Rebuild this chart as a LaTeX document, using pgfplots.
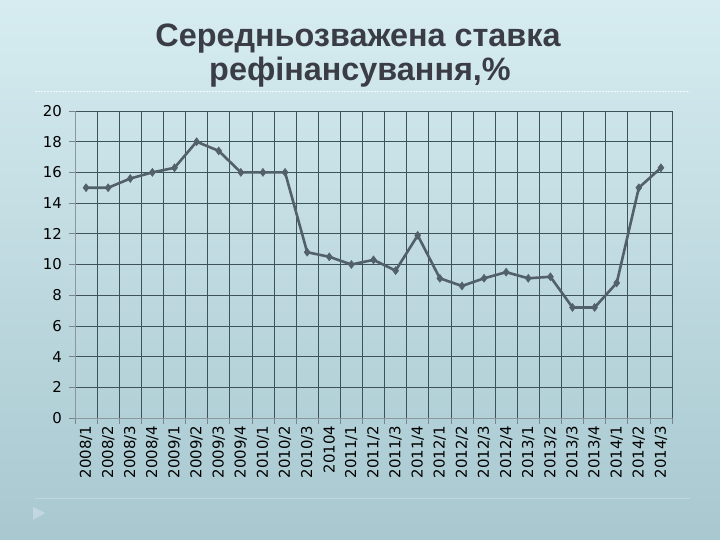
\documentclass[border=0pt]{standalone}
\usepackage{fontspec}
\setmainfont{Liberation Sans}
\newfontfamily\tickfont{DejaVu Sans}
\usepackage{pgfplots}
\pgfplotsset{compat=1.18}

\definecolor{bgtop}{RGB}{214,236,240}
\definecolor{bgbot}{RGB}{168,200,208}
\definecolor{gridc}{RGB}{62,82,90}
\definecolor{linec}{RGB}{82,96,106}
\definecolor{titlec}{RGB}{58,60,70}

\pgfplotstableread{
x y
1 15.0
2 15.0
3 15.6
4 16.0
5 16.3
6 18.0
7 17.4
8 16.0
9 16.0
10 16.0
11 10.8
12 10.5
13 10.0
14 10.3
15 9.6
16 11.9
17 9.1
18 8.6
19 9.1
20 9.5
21 9.1
22 9.2
23 7.2
24 7.2
25 8.8
26 15.0
27 16.3
}\ratedata

\begin{document}
\begin{tikzpicture}[x=1bp,y=1bp]
% slide background
\shade[top color=bgtop,bottom color=bgbot] (0,0) rectangle (720,540);
\draw[white!70!bgtop,dash pattern=on 2bp off 1bp,line width=0.8bp] (35,449) -- (690,449);
\draw[white!25!bgbot,line width=0.8bp] (35,42) -- (690,42);
\fill[bgbot!80!blue!30!white,opacity=0.5] (33,33) -- (45,27) -- (33,20) -- cycle;

% title
\node[font=\bfseries\fontsize{32.5}{33}\selectfont,text=titlec] at (358,501) {Середньозважена ставка};
\node[font=\bfseries\fontsize{32.5}{33}\selectfont,text=titlec] at (360,468) {рефінансування,\%};

\begin{axis}[
    at={(75bp,122bp)},
    anchor=south west,
    scale only axis,
    width=597bp,
    height=307bp,
    xmin=0.5, xmax=27.5,
    ymin=0, ymax=20,
    ytick={0,2,...,20},
    xtick={1,...,27},
    xticklabels={2008/1,2008/2,2008/3,2008/4,2009/1,2009/2,2009/3,2009/4,2010/1,2010/2,2010/3,20104,2011/1,2011/2,2011/3,2011/4,2012/1,2012/2,2012/3,2012/4,2013/1,2013/2,2013/3,2013/4,2014/1,2014/2,2014/3},
    xticklabel style={rotate=90,anchor=east,font=\tickfont\fontsize{15}{15}\selectfont,inner xsep=1.5bp},
    yticklabel style={font=\tickfont\fontsize{15}{15}\selectfont,inner xsep=7bp},
    /pgf/number format/assume math mode=true,
    major x tick style={draw=none},
    minor xtick={0.5,1.5,...,27.5},
    minor x tick style={draw=gridc!70,line width=0.6bp},
    minor tick length=6bp,
    xminorgrids=true,
    ymajorgrids=true,
    major grid style={draw=gridc,line width=0.7bp},
    minor grid style={draw=gridc,line width=0.7bp},
    y tick style={draw=gridc!70,line width=0.6bp},
    major tick length=6bp,
    tick align=outside,
    axis x line*=bottom,
    axis y line*=left,
    axis line style={draw=gridc!60,line width=0.7bp},
    tick label style={text=black},
    clip=false,
]
\addplot[color=linec, line width=2.6bp, mark=diamond*, mark size=4bp,
    mark options={fill=linec,draw=linec,line width=0.5bp}] table[x=x,y=y] {\ratedata};
\end{axis}
\end{tikzpicture}
\end{document}
